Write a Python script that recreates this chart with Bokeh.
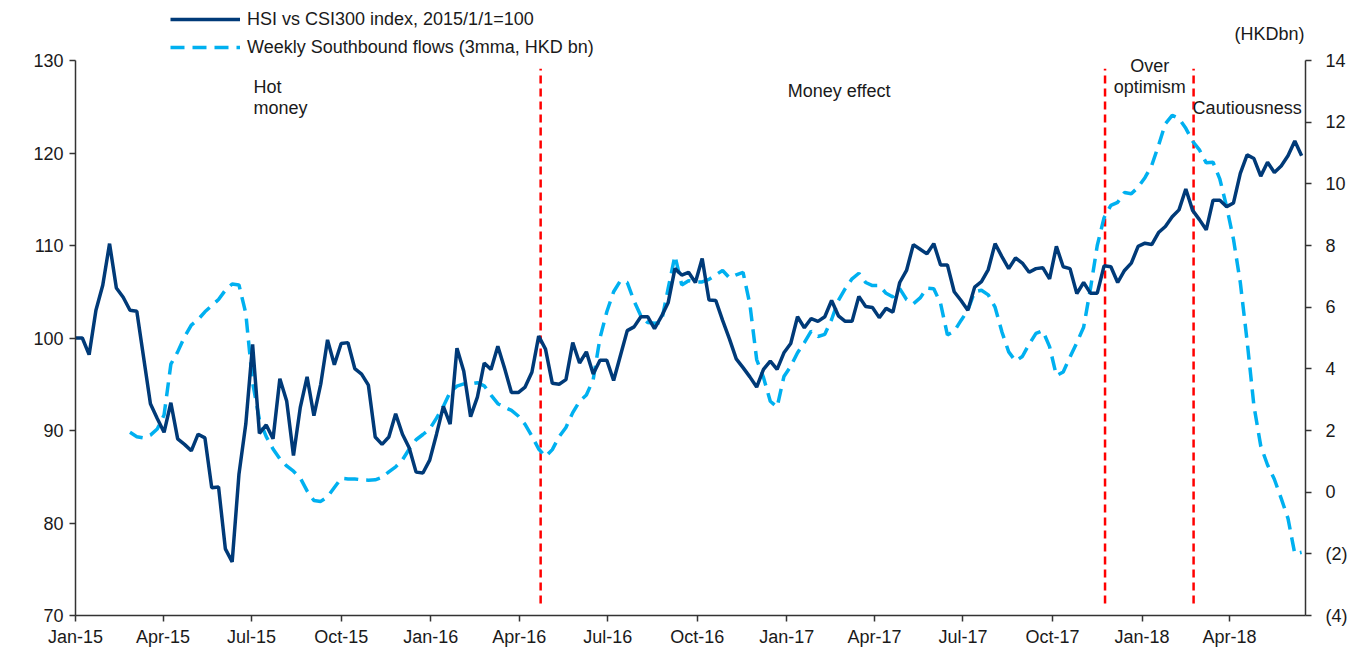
import pandas as pd
from bokeh.plotting import figure
from bokeh.models import (Range1d, LinearAxis, FixedTicker, DatetimeTickFormatter,
                          Legend, LegendItem, Label)
from bokeh.embed import file_html
from bokeh.resources import INLINE

# ---------------- data ----------------
hsi_start = "2015-01-01"
hsi_vs_csi300 = [
    100.0, 100.0, 98.2, 103.0, 105.7, 110.2, 105.4, 104.4, 103.0, 102.9,
    97.9, 92.9, 91.3, 89.8, 93.0, 89.1, 88.5, 87.8, 89.6, 89.2,
    83.8, 83.9, 77.2, 75.8, 85.3, 90.7, 99.3, 89.7, 90.6, 89.1,
    95.6, 93.2, 87.3, 92.5, 95.8, 91.6, 95.0, 99.8, 97.1, 99.4,
    99.5, 96.7, 96.1, 94.9, 89.3, 88.5, 89.3, 91.8, 89.6, 88.1,
    85.5, 85.4, 86.8, 89.6, 92.6, 90.7, 98.9, 96.4, 91.5, 93.6,
    97.3, 96.6, 99.1, 96.7, 94.1, 94.1, 94.7, 96.3, 100.2, 98.8,
    95.1, 95.0, 95.5, 99.5, 97.3, 98.5, 96.1, 97.6, 97.6, 95.4,
    98.1, 100.8, 101.2, 102.3, 102.3, 101.0, 102.3, 103.8, 107.5, 106.8,
    107.1, 106.0, 108.6, 104.1, 104.05, 101.9, 99.9, 97.75, 96.8, 95.8,
    94.7, 96.6, 97.5, 96.6, 98.4, 99.4, 102.3, 101.1, 102.1, 101.8,
    102.3, 104.05, 102.4, 101.8, 101.8, 104.5, 103.4, 103.3, 102.2, 103.2,
    102.8, 106.0, 107.3, 110.1, 109.6, 109.1, 110.2, 107.9, 107.9, 105.0,
    104.05, 103.0, 105.5, 106.1, 107.4, 110.2, 108.8, 107.5, 108.65, 108.1,
    107.1, 107.5, 107.6, 106.4, 109.9, 107.7, 107.5, 104.8, 106.0, 104.85,
    104.85, 107.8, 107.7, 106.0, 107.3, 108.1, 109.9, 110.25, 110.1, 111.4,
    112.05, 113.1, 113.85, 116.1, 113.8, 112.8, 111.7, 114.9, 114.9, 114.2,
    114.6, 117.8, 119.8, 119.4, 117.5, 119.0, 117.9, 118.6, 119.7, 121.3,
    119.7,
]

flows_start = "2015-02-26"
southbound_flows = [
    1.94, 1.80, 1.76, 1.85, 2.05, 2.5, 4.15, 4.55, 5.03, 5.42,
    5.6, 5.85, 6.05, 6.25, 6.55, 6.75, 6.72, 5.8, 3.55, 2.35,
    1.8, 1.4, 1.08, 0.85, 0.68, 0.46, 0.04, -0.27, -0.30, -0.15,
    0.15, 0.45, 0.43, 0.43, 0.40, 0.39, 0.40, 0.48, 0.66, 0.82,
    1.05, 1.40, 1.70, 1.87, 2.05, 2.40, 2.78, 3.25, 3.44, 3.51,
    3.51, 3.55, 3.45, 3.15, 2.87, 2.75, 2.65, 2.47, 2.2, 1.82,
    1.40, 1.15, 1.38, 1.80, 2.10, 2.58, 2.95, 3.15, 3.65, 5.0,
    5.85, 6.50, 6.86, 6.80, 6.2, 5.72, 5.50, 5.48, 5.5, 6.6,
    7.67, 6.72, 6.86, 6.82, 6.82, 6.9, 7.05, 7.19, 6.95, 7.05,
    7.13, 6.1, 4.3, 3.72, 2.95, 2.76, 3.75, 4.08, 4.52, 4.85,
    5.22, 5.05, 5.12, 5.6, 6.22, 6.6, 6.92, 7.1, 6.8, 6.7,
    6.7, 6.45, 6.33, 6.6, 6.25, 6.11, 6.3, 6.62, 6.6, 6.12,
    5.1, 5.22, 5.57, 5.9, 6.5, 6.55, 6.4, 6.0, 5.2, 4.55,
    4.25, 4.40, 4.8, 5.15, 5.24, 4.72, 3.78, 3.9, 4.38, 4.85,
    5.35, 6.6, 8.0, 8.9, 9.3, 9.4, 9.72, 9.68, 9.89, 10.2,
    10.6, 11.25, 11.95, 12.22, 12.12, 11.8, 11.38, 11.1, 10.68, 10.7,
    10.15, 9.25, 8.2, 6.8, 4.9, 2.8, 1.5, 0.88, 0.42, -0.2,
    -0.85, -2.0, -1.95,
]

x_tick_dates = ["2015-01-01", "2015-04-01", "2015-07-01", "2015-10-01",
                "2016-01-01", "2016-04-01", "2016-07-01", "2016-10-01",
                "2017-01-01", "2017-04-01", "2017-07-01", "2017-10-01",
                "2018-01-01", "2018-04-01"]
left_ticks = [70, 80, 90, 100, 110, 120, 130]
right_ticks = [-4, -2, 0, 2, 4, 6, 8, 10, 12, 14]
right_tick_labels = ["(4)", "(2)", "0", "2", "4", "6", "8", "10", "12", "14"]

phase_breaks = ["2016-04-23", "2017-11-24", "2018-02-23"]

series_names = ["HSI vs CSI300 index, 2015/1/1=100",
                "Weekly Southbound flows (3mma, HKD bn)"]
right_unit = "(HKDbn)"

# ---------------- build ----------------
def ms(d):
    return pd.Timestamp(d).value / 1e6

hsi_x = [ms(d) for d in pd.date_range(hsi_start, periods=len(hsi_vs_csi300), freq="7D")]
flow_x = [ms(d) for d in pd.date_range(flows_start, periods=len(southbound_flows), freq="7D")]

NAVY = "#003A78"
CYAN = "#00B0F0"
RED = "#FF0000"
FONT = "Liberation Sans"
FS = "18px"
TXT = "#1a1a1a"
AX = "#333333"

# Frame spans the full canvas height above the axis (room for legend/notes);
# the y axes themselves are bounded to 70-130 and -4-14.
W, H = 1352, 650
FRAME_L, FRAME_R, FRAME_B = 75, 1305, 615
AXIS_TOP_PX = 60
left_lo, left_hi = 70, 130
right_lo, right_hi = -4, 14
px_per_left = (FRAME_B - AXIS_TOP_PX) / (left_hi - left_lo)
px_per_right = (FRAME_B - AXIS_TOP_PX) / (right_hi - right_lo)

p = figure(width=W, height=H, x_axis_type="datetime",
           x_range=Range1d(ms("2015-01-01"), ms("2018-06-18")),
           y_range=Range1d(left_lo, left_hi + AXIS_TOP_PX / px_per_left),
           output_backend="svg", toolbar_location=None,
           min_border_left=FRAME_L, min_border_right=W - FRAME_R,
           min_border_top=0, min_border_bottom=H - FRAME_B)
p.extra_y_ranges = {"flows": Range1d(right_lo, right_hi + AXIS_TOP_PX / px_per_right)}
p.outline_line_color = None
p.xgrid.visible = False
p.ygrid.visible = False

xa = p.xaxis[0]
xa.ticker = FixedTicker(ticks=[ms(d) for d in x_tick_dates])
fmt = "%b-%y"
xa.formatter = DatetimeTickFormatter(years=fmt, months=fmt, days=fmt, hours=fmt,
                                     minutes=fmt, seconds=fmt, milliseconds=fmt,
                                     microseconds=fmt, hourmin=fmt, minsec=fmt)
ya = p.yaxis[0]
ya.ticker = FixedTicker(ticks=left_ticks)
ya.bounds = (left_lo, left_hi)

ra = LinearAxis(y_range_name="flows", ticker=FixedTicker(ticks=right_ticks),
                bounds=(right_lo, right_hi),
                major_label_overrides={int(t): s for t, s in zip(right_ticks, right_tick_labels)})
p.add_layout(ra, "right")

for ax in [xa, ya, ra]:
    ax.axis_line_color = AX
    ax.axis_line_width = 1.5
    ax.major_tick_line_color = AX
    ax.major_tick_line_width = 1.5
    ax.major_tick_in = 0
    ax.major_tick_out = 6
    ax.minor_tick_line_color = None
    ax.major_label_text_font = FONT
    ax.major_label_text_font_size = FS
    ax.major_label_text_color = TXT
xa.major_label_standoff = 5
ya.major_label_standoff = 6
ra.major_label_standoff = 14

# phase separators
bx = [ms(d) for d in phase_breaks]
p.segment(x0=bx, y0=[71.3] * len(bx), x1=bx, y1=[129.1] * len(bx),
          line_color=RED, line_width=2.5, line_dash="8 5")

r_flow = p.line(flow_x, southbound_flows, y_range_name="flows",
                line_color=CYAN, line_width=3.5, line_dash="14 8")
r_hsi = p.line(hsi_x, hsi_vs_csi300, line_color=NAVY, line_width=3.5)

legend = Legend(items=[LegendItem(label=series_names[0], renderers=[r_hsi]),
                       LegendItem(label=series_names[1], renderers=[r_flow])],
                location=(95, FRAME_B - 58), orientation="vertical",
                border_line_color=None, background_fill_alpha=0,
                glyph_width=70, glyph_height=22, label_height=22,
                spacing=6, padding=0, margin=0, label_standoff=7,
                label_text_font=FONT, label_text_font_size=FS,
                label_text_color=TXT)
p.add_layout(legend)

def add_label(text, date, y, align="left", xoff=0):
    p.add_layout(Label(x=ms(date), y=y, text=text, text_align=align, x_offset=xoff,
                       text_baseline="alphabetic", text_font=FONT,
                       text_font_size=FS, text_color=TXT))

add_label("Hot", "2015-07-03", 127.1)
add_label("money", "2015-07-03", 124.85)
add_label("Money effect", "2017-01-02", 126.7)
add_label("Over", "2018-01-09", 129.4, "center")
add_label("optimism", "2018-01-09", 127.15, "center")
add_label("Cautiousness", "2018-02-22", 124.85)
add_label(right_unit, "2018-06-18", 132.9, "right", -1)

open("out.html", "w").write(file_html(p, INLINE))
